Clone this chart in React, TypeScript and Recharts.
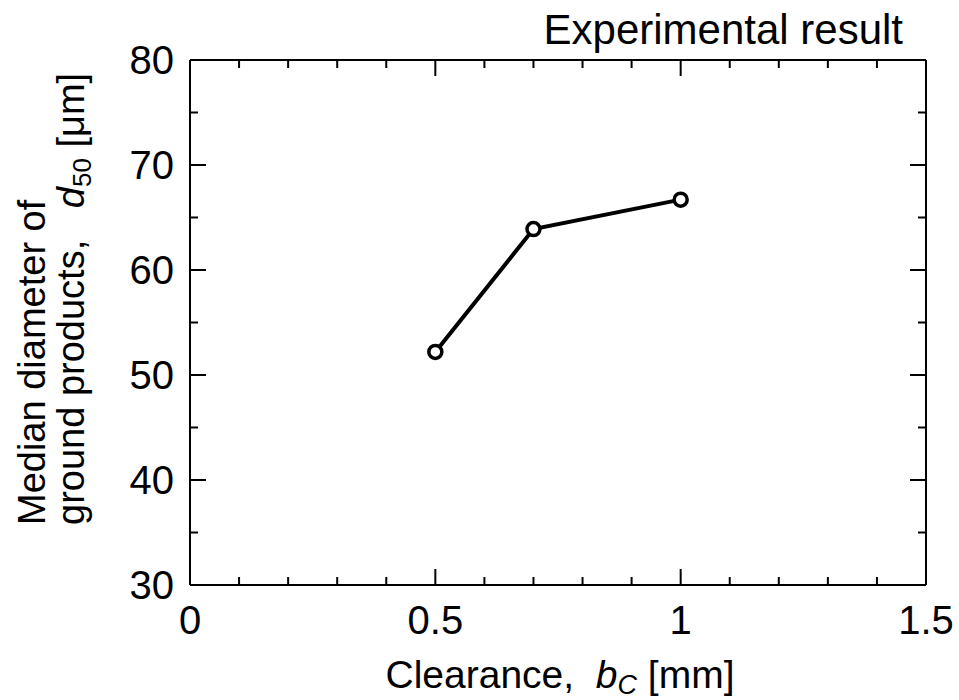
import { LineChart, Line, XAxis, YAxis } from "recharts";

const clearance = [0.5, 0.7, 1.0];
const medianDiameter = [52.2, 63.9, 66.7];

const xTicks = [0, 0.1, 0.2, 0.3, 0.4, 0.5, 0.6, 0.7, 0.8, 0.9, 1, 1.1, 1.2, 1.3, 1.4, 1.5];
const xMajor = [0, 0.5, 1, 1.5];
const yTicks = [30, 35, 40, 45, 50, 55, 60, 65, 70, 75, 80];
const yMajor = [30, 40, 50, 60, 70, 80];

const data = clearance.map((bc, i) => ({ bc, d50: medianDiameter[i] }));

const FONT = "'Liberation Sans', Arial, sans-serif";
const MAJOR = 16;
const MINOR = 8;

const BottomTick = ({ x, y, payload }: any) => {
  const major = xMajor.includes(payload.value);
  return (
    <g>
      <line x1={x} x2={x} y1={y} y2={y - (major ? MAJOR : MINOR)} stroke="#000" strokeWidth={2} />
      {major && (
        <text x={x} y={y + 49} textAnchor="middle" fontSize={40} fontFamily={FONT} fill="#000">
          {String(payload.value)}
        </text>
      )}
    </g>
  );
};

const TopTick = ({ x, y, payload }: any) => {
  const major = xMajor.includes(payload.value);
  return <line x1={x} x2={x} y1={y} y2={y + (major ? MAJOR : MINOR)} stroke="#000" strokeWidth={2} />;
};

const LeftTick = ({ x, y, payload }: any) => {
  const major = yMajor.includes(payload.value);
  return (
    <g>
      <line x1={x} x2={x + (major ? MAJOR : MINOR)} y1={y} y2={y} stroke="#000" strokeWidth={2} />
      {major && (
        <text x={x - 16} y={y + 14} textAnchor="end" fontSize={40} fontFamily={FONT} fill="#000">
          {String(payload.value)}
        </text>
      )}
    </g>
  );
};

const RightTick = ({ x, y, payload }: any) => {
  const major = yMajor.includes(payload.value);
  return <line x1={x} x2={x - (major ? MAJOR : MINOR)} y1={y} y2={y} stroke="#000" strokeWidth={2} />;
};

export default function App() {
  return (
    <div style={{ width: 959, height: 700 }}>
      <style>{`body { margin: 0; }`}</style>
      <LineChart width={959} height={700} data={data} margin={{ top: 59, right: 32, bottom: 55, left: 0 }}>
        <XAxis
          dataKey="bc"
          type="number"
          domain={[0, 1.5]}
          ticks={xTicks}
          interval={0}
          height={60}
          tickSize={0}
          tickMargin={0}
          tick={<BottomTick />}
          axisLine={{ stroke: "#000", strokeWidth: 2 }}
          allowDataOverflow
        />
        <XAxis
          xAxisId="top"
          orientation="top"
          dataKey="bc"
          type="number"
          domain={[0, 1.5]}
          ticks={xTicks}
          interval={0}
          height={1}
          tickSize={0}
          tickMargin={0}
          tick={<TopTick />}
          axisLine={{ stroke: "#000", strokeWidth: 2 }}
          allowDataOverflow
        />
        <YAxis
          type="number"
          domain={[30, 80]}
          ticks={yTicks}
          interval={0}
          width={190}
          tickSize={0}
          tickMargin={0}
          tick={<LeftTick />}
          axisLine={{ stroke: "#000", strokeWidth: 2 }}
          allowDataOverflow
        />
        <YAxis
          yAxisId="right"
          orientation="right"
          type="number"
          domain={[30, 80]}
          ticks={yTicks}
          interval={0}
          width={1}
          tickSize={0}
          tickMargin={0}
          tick={<RightTick />}
          axisLine={{ stroke: "#000", strokeWidth: 2 }}
          allowDataOverflow
        />
        {/* invisible copy so the top/right frame axes have a series */}
        <Line
          xAxisId="top"
          yAxisId="right"
          dataKey="d50"
          stroke="none"
          dot={false}
          activeDot={false}
          isAnimationActive={false}
        />
        <Line
          dataKey="d50"
          stroke="#000"
          strokeWidth={4}
          dot={{ r: 6.5, fill: "#fff", stroke: "#000", strokeWidth: 3.5 }}
          isAnimationActive={false}
        />
        <text x={903} y={44} textAnchor="end" fontSize={42} fontFamily={FONT} fill="#000">
          Experimental result
        </text>
        <text x={560} y={688} textAnchor="middle" fontSize={39} fontFamily={FONT} fill="#000" style={{ whiteSpace: "pre" }}>
          {"Clearance,  "}
          <tspan fontStyle="italic">b</tspan>
          <tspan fontStyle="italic" fontSize={27} dy={6}>C</tspan>
          <tspan dy={-6}>{" [mm]"}</tspan>
        </text>
        <text x={45} y={525} transform="rotate(-90, 45, 525)" fontSize={38} fontFamily={FONT} fill="#000">
          Median diameter of
        </text>
        <text x={84} y={525} transform="rotate(-90, 84, 525)" fontSize={38} fontFamily={FONT} fill="#000" style={{ whiteSpace: "pre" }}>
          {"ground products,   "}
          <tspan fontStyle="italic">d</tspan>
          <tspan fontSize={26} dy={7}>50</tspan>
          <tspan dy={-7}>{" [μm]"}</tspan>
        </text>
      </LineChart>
    </div>
  );
}
